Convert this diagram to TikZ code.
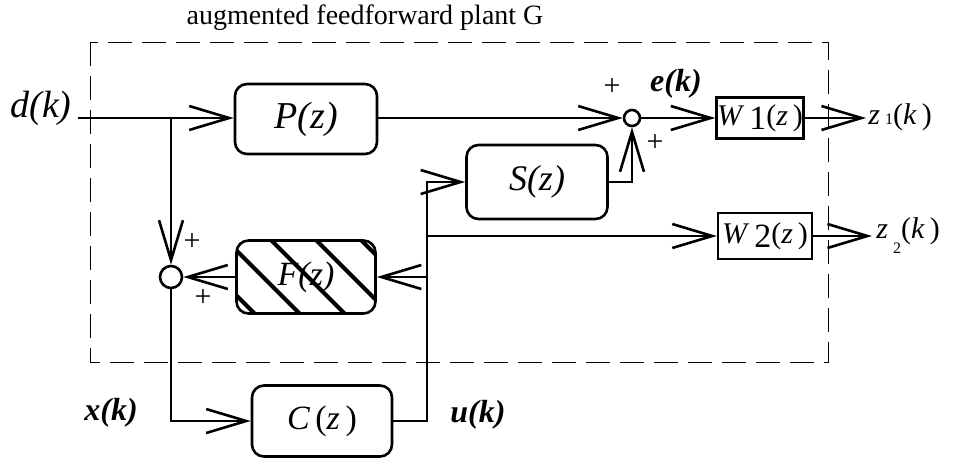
\documentclass[tikz,border=0pt]{standalone}
\usepackage{fontspec}
\setmainfont{Liberation Serif}
\usetikzlibrary{arrows.meta, calc}

\begin{document}
\begin{tikzpicture}[
    x=0.5pt, y=-0.5pt,
    blk/.style={draw, line width=1.3pt, rounded corners=6pt, inner sep=0pt,
      font=\fontsize{#1}{20}\selectfont\itshape},
    blk/.default=18,
    wbox/.style={draw, line width=1.2pt, inner sep=0pt, font=\fontsize{15}{18}\selectfont},
    sumc/.style={draw, circle, line width=1.3pt, inner sep=0pt, minimum size=#1},
    hatched/.style={path picture={
        \foreach \o in {-55,-10,35,80,125}
          \draw[line width=2pt] ($(path picture bounding box.north west)+(\o-10,-10)$) -- ++(110,110);}},
    arrow/.style={-{Straight Barb[length=20pt, width=12pt, line width=1.3pt]}, line width=1.3pt},
    plant/.style={dashed, dash pattern=on 12pt off 5pt, line width=0.5pt},
    sig/.style={inner sep=0pt, font=\fontsize{16}{19}\selectfont\bfseries\itshape},
    pm/.style={inner sep=0pt, font=\fontsize{15}{18}\selectfont},
    zlab/.style={inner sep=0pt, anchor=west, font=\fontsize{15}{18}\selectfont},
  ]
  \useasboundingbox (0,0) rectangle (954,462);

  % plant G
  \node[font=\fontsize{14}{17}\selectfont] (title) at (365,18) {augmented feedforward plant G};
  \draw[plant] (90,42) rectangle (828,362);

  % blocks
  \node[blk=19, minimum width=71pt, minimum height=35pt] (P) at (306,119) {P(z)};
  \node[blk=18, minimum width=70.5pt, minimum height=37pt] (S) at (537,182) {S(z)};
  \node[blk=17, hatched, minimum width=69.5pt, minimum height=36.5pt] (F) at (306,277) {F(z)};
  \node[blk=17, minimum width=70pt, minimum height=35.5pt] (C) at (322,421) {C\,{\upshape(}z\,{\upshape)}};
  \node[wbox, minimum width=43.5pt, minimum height=20.5pt] (W1) at (760,118)
    {\textit{W}\,\raisebox{-0.15em}{\fontsize{17}{18}\selectfont 1}(\textit{z}\,)};
  \node[wbox, minimum width=47pt, minimum height=23pt] (W2) at (765,236)
    {\textit{W}\,\raisebox{-0.15em}{\fontsize{17}{18}\selectfont 2}(\textit{z}\,)};

  % summing points
  \node[sumc=8pt] (s1) at (632,118) {};
  \node[sumc=11pt] (s2) at (171,277) {};

  % signals
  \node[inner sep=0pt, font=\fontsize{19}{22}\selectfont\itshape] (dk) at (41,108) {d(k)};
  \node[sig] (ek) at (676,84) {e(k)};
  \node[sig] (xk) at (111,413) {x(k)};
  \node[sig] (uk) at (478,415) {u(k)};
  \node[zlab] (z1) at (868,117) {\textit{z}\,{\fontsize{8}{9}\selectfont 1}(\textit{k}\,)};
  \node[zlab] (z2) at (876,236) {\textit{z}\,\raisebox{-0.5em}{\fontsize{8}{9}\selectfont 2}(\textit{k}\,)};
  \node[pm] at (612,87) {+};
  \node[pm] at (655,143) {+};
  \node[pm] at (192,242) {+};
  \node[pm] at (203,298) {+};

  \coordinate (din) at (78,118);
  \coordinate (b1) at (171,118);
  \coordinate (z1out) at (866,118);
  \coordinate (z2out) at (872,236);
  \coordinate (top) at (427,182);
  \coordinate (j2) at (427,236);
  \coordinate (j3) at (427,277);

  % connections
  \draw[arrow] (din) -- (P.west |- din);
  \draw[arrow] (b1) -- (s2.north);
  \draw[arrow] (P.east |- s1) -- (s1.west);
  \draw[arrow] (s1.east) -- (W1.west);
  \draw[arrow] (W1.east) -- (z1out);
  \draw[arrow] (S.east) -| (s1.south);
  \draw[arrow] (C.east) -| (top) -- (S.west);
  \draw[arrow] (j2) -- (W2.west);
  \draw[arrow] (j3) -- (F.east);
  \draw[arrow] (F.west) -- (s2.east);
  \draw[arrow] (s2.south) |- (C.west);
  \draw[arrow] (W2.east) -- (z2out);
\end{tikzpicture}
\end{document}
